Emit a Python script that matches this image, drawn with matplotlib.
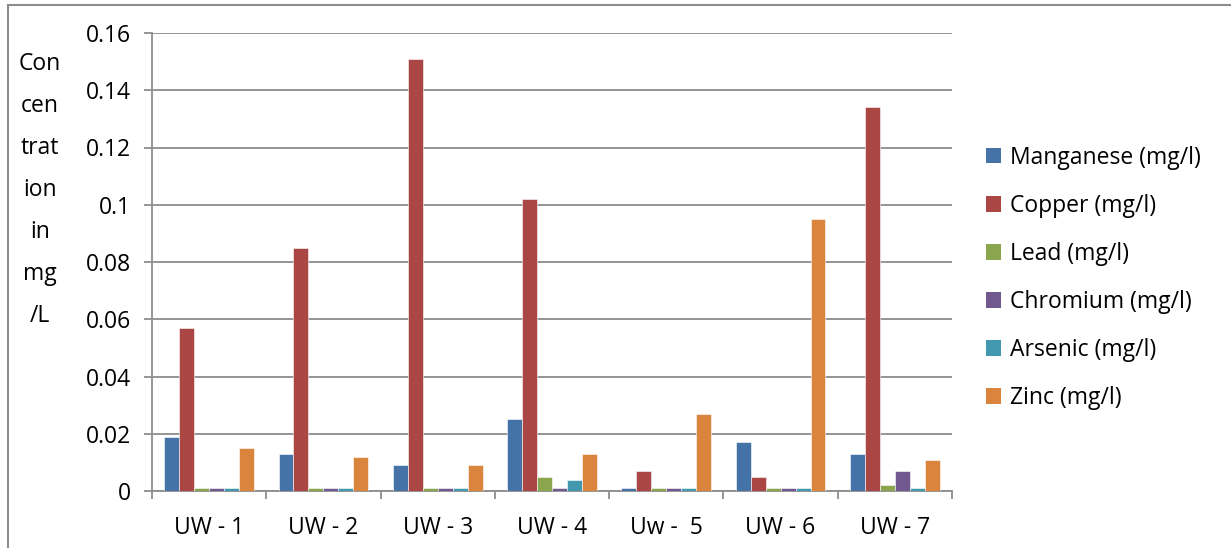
"""
    Grouped bar chart of heavy metal concentrations at the UW sampling points.
"""

import numpy as np
import matplotlib.pyplot as plt
from matplotlib.lines import Line2D
from matplotlib.patches import Patch

# sampling points
sites = ["UW - 1", "UW - 2", "UW - 3", "UW - 4", "Uw -  5", "UW - 6", "UW - 7"]

# concentrations in mg/L per metal
manganese = [0.019, 0.013, 0.009, 0.025, 0.001, 0.017, 0.013]
copper = [0.057, 0.085, 0.151, 0.102, 0.007, 0.005, 0.134]
lead = [0.001, 0.001, 0.001, 0.005, 0.001, 0.001, 0.002]
chromium = [0.001, 0.001, 0.001, 0.001, 0.001, 0.001, 0.007]
arsenic = [0.001, 0.001, 0.001, 0.004, 0.001, 0.001, 0.001]
zinc = [0.015, 0.012, 0.009, 0.013, 0.027, 0.095, 0.011]

series_names = ["Manganese (mg/l)", "Copper (mg/l)", "Lead (mg/l)",
                "Chromium (mg/l)", "Arsenic (mg/l)", "Zinc (mg/l)"]
series = [manganese, copper, lead, chromium, arsenic, zinc]
colors = ["#4572A7", "#AA4643", "#89A54E", "#71588F", "#4198AF", "#DB843D"]

plt.rcParams["font.family"] = ["Open Sans", "DejaVu Sans"]
FS = 16.5

fig = plt.figure(figsize=(12.31, 5.48), dpi=100)
ax = fig.add_axes([152 / 1231, 1 - 491 / 548, 800 / 1231, 458 / 548])

x = np.arange(len(sites))
bar_w = 0.131
for i, (name, vals, col) in enumerate(zip(series_names, series, colors)):
    offset = (i - 2.5) * bar_w
    ax.bar(x + offset, vals, bar_w, color=col, edgecolor="white", linewidth=0.4, label=name, zorder=3)

ax.set_xlim(-0.5, len(sites) - 0.5)
ax.set_ylim(0, 0.16)
ax.set_yticks(np.arange(0, 0.161, 0.02))
ax.set_yticklabels(["0", "0.02", "0.04", "0.06", "0.08", "0.1", "0.12", "0.14", "0.16"])
ax.yaxis.grid(True, color="#8c8c8c", linewidth=1.3, zorder=0)

# category labels centred, tick marks on the boundaries
ax.set_xticks(np.arange(-0.5, len(sites), 1.0))
ax.set_xticklabels([])
ax.set_xticks(x, minor=True)
ax.set_xticklabels(sites, minor=True)
ax.tick_params(axis="x", which="minor", length=0, pad=18, labelsize=FS)
ax.tick_params(axis="x", which="major", length=6, width=1.3, color="#8c8c8c")
ax.tick_params(axis="y", length=6, width=1.3, color="#8c8c8c", labelsize=FS, pad=9)

for side in ["top", "right"]:
    ax.spines[side].set_visible(False)
for side in ["left", "bottom"]:
    ax.spines[side].set_color("#8c8c8c")
    ax.spines[side].set_linewidth(1.3)

# wrapped y label as Excel drew it
fig.text(40 / 1231, 1 - 52 / 548, "Con\ncen\ntrat\nion\nin\nmg\n/L", ha="center", va="top",
         fontsize=FS, linespacing=2.0)

handles = [Patch(facecolor=c, edgecolor="none") for c in colors]
fig.legend(handles, series_names, loc="center left", bbox_to_anchor=(965 / 1231, 1 - 278 / 548),
           frameon=False, fontsize=FS, handlelength=0.65, handleheight=0.65, handletextpad=0.4,
           labelspacing=1.05)

# chart border
fig.add_artist(Line2D([8 / 1231, 1.0], [1 - 5 / 548] * 2, color="#8c8c8c", linewidth=1.5))
fig.add_artist(Line2D([8 / 1231] * 2, [0, 1 - 5 / 548], color="#8c8c8c", linewidth=1.5))

fig.savefig("out.png", dpi=100)
